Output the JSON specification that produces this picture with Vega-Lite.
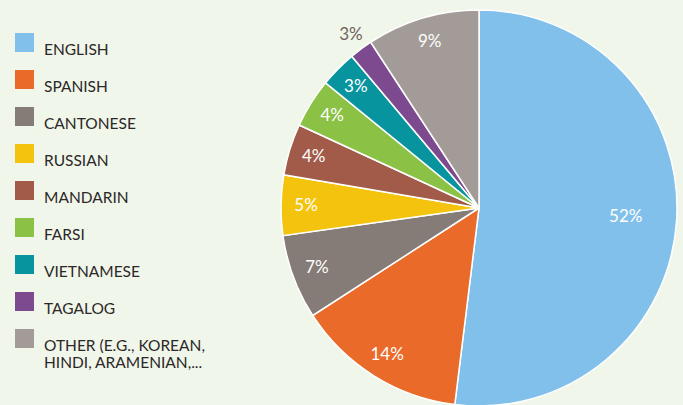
{
  "$schema": "https://vega.github.io/schema/vega-lite/v6.json",
  "width": 396,
  "height": 396,
  "autosize": "none",
  "padding": {"left": 281, "top": 10, "right": 6, "bottom": 0},
  "background": "#f1f6ea",
  "config": {"view": {"stroke": null}},
  "data": {
    "values": [
      {"idx": 1, "lang": "ENGLISH", "value": 51.9, "label": "52%"},
      {"idx": 2, "lang": "SPANISH", "value": 13.9, "label": "14%"},
      {"idx": 3, "lang": "CANTONESE", "value": 6.9, "label": "7%"},
      {"idx": 4, "lang": "RUSSIAN", "value": 4.9, "label": "5%"},
      {"idx": 5, "lang": "MANDARIN", "value": 4.2, "label": "4%"},
      {"idx": 6, "lang": "FARSI", "value": 4.0, "label": "4%"},
      {"idx": 7, "lang": "VIETNAMESE", "value": 3.0, "label": "3%"},
      {"idx": 8, "lang": "TAGALOG", "value": 1.9, "label": "3%"},
      {"idx": 9, "lang": "OTHER (E.G., KOREAN, HINDI, ARAMENIAN,...", "value": 9.2, "label": "9%"}
    ]
  },
  "encoding": {
    "theta": {"field": "value", "type": "quantitative", "stack": true},
    "order": {"field": "idx", "type": "quantitative", "sort": "ascending"}
  },
  "layer": [
    {
      "mark": {"type": "arc", "outerRadius": 198, "stroke": "#ffffff", "strokeWidth": 1.5},
      "encoding": {
        "color": {
          "field": "lang",
          "type": "nominal",
          "sort": null,
          "scale": {
            "domain": ["ENGLISH", "SPANISH", "CANTONESE", "RUSSIAN", "MANDARIN", "FARSI", "VIETNAMESE", "TAGALOG", "OTHER (E.G., KOREAN, HINDI, ARAMENIAN,..."],
            "range": ["#81c0ea", "#ea6a29", "#857b77", "#f4c30e", "#a15b48", "#8bc145", "#08949f", "#7e4a8f", "#a39b98"]
          },
          "legend": {
            "title": null,
            "orient": "none",
            "legendX": -266,
            "legendY": 23,
            "padding": 0,
            "symbolType": "square",
            "symbolSize": 361,
            "symbolStrokeWidth": 0,
            "symbolOpacity": 1,
            "labelFont": "Lato",
            "labelFontSize": 15.5,
            "labelColor": "#2b2827",
            "labelBaseline": "top",
            "labelOffset": 10,
            "labelLimit": 300,
            "rowPadding": 12,
            "labelExpr": "datum.label == 'OTHER (E.G., KOREAN, HINDI, ARAMENIAN,...' ? ['OTHER (E.G., KOREAN,', 'HINDI, ARAMENIAN,...'] : datum.label"
          }
        }
      }
    },
    {
      "mark": {"type": "text", "radius": 173, "font": "Lato", "fontSize": 17, "color": "#ffffff"},
      "encoding": {
        "text": {"condition": {"test": "datum.lang != 'ENGLISH' && datum.lang != 'TAGALOG'", "field": "label"}, "value": ""}
      }
    },
    {
      "mark": {"type": "text", "radius": 147, "font": "Lato", "fontSize": 17, "color": "#ffffff"},
      "encoding": {
        "text": {"condition": {"test": "datum.lang == 'ENGLISH'", "field": "label"}, "value": ""}
      }
    },
    {
      "mark": {"type": "text", "radius": 215, "font": "Lato", "fontSize": 17, "color": "#6e625c"},
      "encoding": {
        "text": {"condition": {"test": "datum.lang == 'TAGALOG'", "field": "label"}, "value": ""}
      }
    }
  ]
}
